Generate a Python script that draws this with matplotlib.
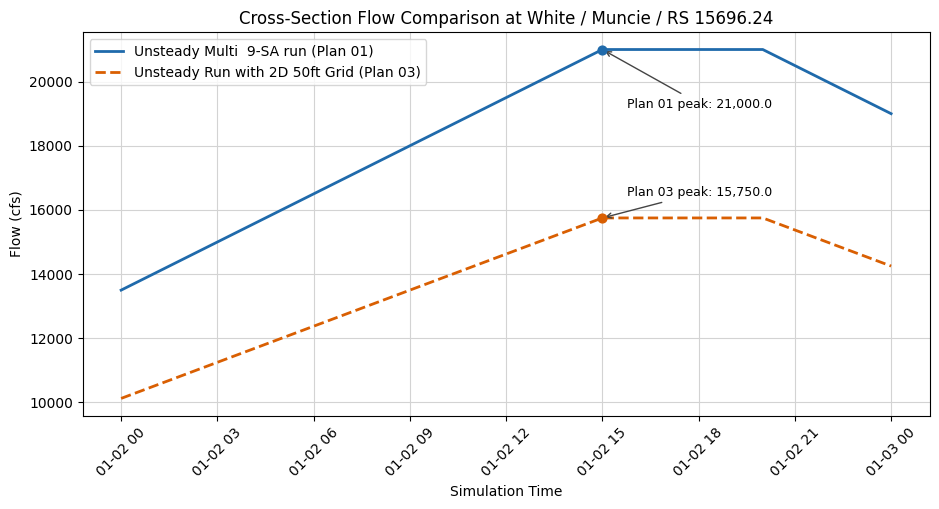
import matplotlib
matplotlib.use("Agg")
import matplotlib.pyplot as plt
import matplotlib.dates as mdates
import pandas as pd

times = pd.to_datetime(["2024-01-02 00:00", "2024-01-02 15:00", "2024-01-02 20:00", "2024-01-03 00:00"])
plan01 = [13500, 21000, 21000, 19000]
plan03 = [10125, 15750, 15750, 14250]
label01 = "Unsteady Multi  9-SA run (Plan 01)"
label03 = "Unsteady Run with 2D 50ft Grid (Plan 03)"
c01 = "#1f6aab"
c03 = "#d95f02"

fig, ax = plt.subplots(figsize=(9.39, 5.09), dpi=100)
ax.plot(times, plan01, color=c01, lw=2, label=label01)
ax.plot(times, plan03, color=c03, lw=2, ls="--", label=label03)

i1 = max(range(len(plan01)), key=lambda i: plan01[i])
i3 = max(range(len(plan03)), key=lambda i: plan03[i])
ax.scatter([times[i1]], [plan01[i1]], color=c01, s=40, zorder=5)
ax.scatter([times[i3]], [plan03[i3]], color=c03, s=40, zorder=5)
ax.annotate(f"Plan 01 peak: {plan01[i1]:,.1f}", xy=(times[i1], plan01[i1]),
            xytext=(25, -58), textcoords="offset pixels", fontsize=9,
            arrowprops=dict(arrowstyle="->", color="#444444", lw=1))
ax.annotate(f"Plan 03 peak: {plan03[i3]:,.1f}", xy=(times[i3], plan03[i3]),
            xytext=(25, 22), textcoords="offset pixels", fontsize=9,
            arrowprops=dict(arrowstyle="->", color="#444444", lw=1))

ax.set_title("Cross-Section Flow Comparison at White / Muncie / RS 15696.24", fontsize=12)
ax.set_xlabel("Simulation Time")
ax.set_ylabel("Flow (cfs)")
ax.grid(True, color="#d3d3d3", lw=0.8)
ax.xaxis.set_major_locator(mdates.HourLocator(byhour=range(0, 24, 3)))
ax.xaxis.set_major_formatter(mdates.DateFormatter("%m-%d %H"))
plt.setp(ax.get_xticklabels(), rotation=45)
ax.legend(loc="upper left")
fig.subplots_adjust(left=0.088, right=0.990, top=0.937, bottom=0.183)
fig.savefig("out.png", dpi=100)
